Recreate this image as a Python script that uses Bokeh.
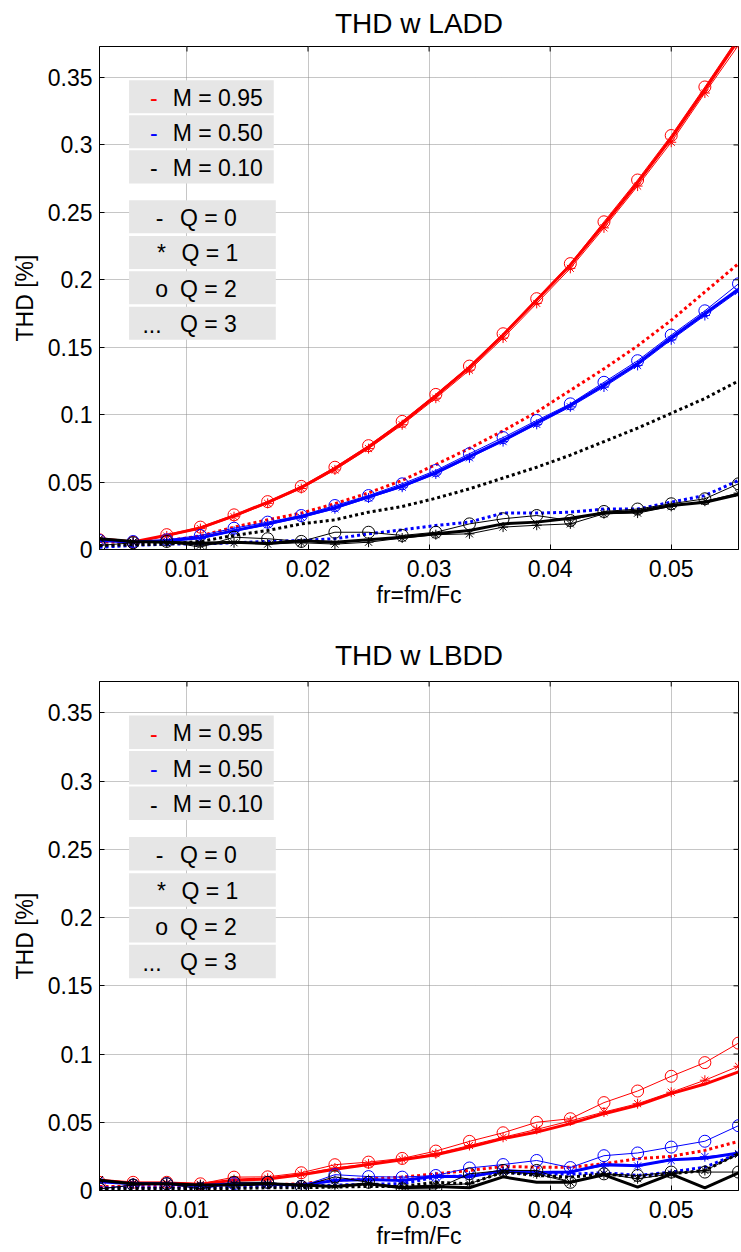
import math
from bokeh.plotting import figure
from bokeh.layouts import column
from bokeh.models import (Range1d, BoxAnnotation, Label, FixedTicker, NumeralTickFormatter, Title)
from bokeh.embed import file_html
from bokeh.resources import INLINE

# ---------------- data ----------------
fr = [0.002778, 0.005556, 0.008333, 0.011111, 0.013889, 0.016667, 0.019444, 0.022222,
      0.025000, 0.027778, 0.030556, 0.033333, 0.036111, 0.038889, 0.041667, 0.044444,
      0.047222, 0.050000, 0.052778, 0.055556]

x_ticks = [0.01, 0.02, 0.03, 0.04, 0.05]
y_ticks = [0, 0.05, 0.1, 0.15, 0.2, 0.25, 0.3, 0.35]
x_min, x_max = 0.002778, 0.055556
y_min, y_max = 0.0, 0.373

titles = ["THD w LADD", "THD w LBDD"]
x_label = "fr=fm/Fc"
y_label = "THD [%]"

m_labels = ["M = 0.95", "M = 0.50", "M = 0.10"]
m_colors = ["#ff0000", "#0000ff", "#000000"]
q_labels = ["Q = 0", "Q = 1", "Q = 2", "Q = 3"]
q_symbols = ["-", "*", "o", "..."]

# THD w LADD
ladd_r_q0 = [0.0080, 0.0056, 0.0105, 0.0160, 0.0250, 0.0350, 0.0460, 0.0600, 0.0760, 0.0940,
             0.1140, 0.1350, 0.1590, 0.1850, 0.2110, 0.2410, 0.2720, 0.3050, 0.3410, 0.3780]
ladd_r_q1 = [0.0078, 0.0054, 0.0100, 0.0155, 0.0243, 0.0342, 0.0452, 0.0590, 0.0748, 0.0925,
             0.1122, 0.1330, 0.1568, 0.1825, 0.2085, 0.2385, 0.2695, 0.3020, 0.3385, 0.3740]
ladd_r_q2 = [0.0072, 0.0054, 0.0110, 0.0166, 0.0257, 0.0355, 0.0468, 0.0610, 0.0770, 0.0950,
             0.1150, 0.1360, 0.1600, 0.1860, 0.2120, 0.2430, 0.2740, 0.3070, 0.3430, 0.3800]
ladd_r_q3 = [0.0060, 0.0050, 0.0065, 0.0100, 0.0166, 0.0220, 0.0270, 0.0340, 0.0420, 0.0512,
             0.0630, 0.0750, 0.0880, 0.1020, 0.1180, 0.1340, 0.1510, 0.1700, 0.1910, 0.2120]

ladd_b_q0 = [0.0067, 0.0055, 0.0065, 0.0087, 0.0140, 0.0190, 0.0245, 0.0310, 0.0390, 0.0470,
             0.0570, 0.0690, 0.0810, 0.0940, 0.1070, 0.1220, 0.1380, 0.1570, 0.1750, 0.1930]
ladd_b_q1 = [0.0065, 0.0052, 0.0062, 0.0082, 0.0135, 0.0184, 0.0238, 0.0302, 0.0382, 0.0462,
             0.0560, 0.0680, 0.0800, 0.0928, 0.1058, 0.1205, 0.1365, 0.1555, 0.1735, 0.1915]
ladd_b_q2 = [0.0067, 0.0059, 0.0072, 0.0104, 0.0158, 0.0203, 0.0252, 0.0326, 0.0400, 0.0487,
             0.0586, 0.0710, 0.0830, 0.0957, 0.1080, 0.1240, 0.1400, 0.1590, 0.1770, 0.1970]
ladd_b_q3 = [0.0017, 0.0030, 0.0040, 0.0040, 0.0050, 0.0060, 0.0067, 0.0080, 0.0116, 0.0146,
             0.0178, 0.0203, 0.0270, 0.0270, 0.0277, 0.0300, 0.0300, 0.0351, 0.0400, 0.0512]

ladd_k_q0 = [0.0079, 0.0059, 0.0054, 0.0047, 0.0054, 0.0044, 0.0064, 0.0054, 0.0072, 0.0091,
             0.0116, 0.0141, 0.0190, 0.0203, 0.0232, 0.0270, 0.0284, 0.0326, 0.0351, 0.0408]
ladd_k_q1 = [0.0079, 0.0055, 0.0050, 0.0032, 0.0050, 0.0040, 0.0050, 0.0040, 0.0054, 0.0085,
             0.0110, 0.0116, 0.0166, 0.0180, 0.0190, 0.0265, 0.0270, 0.0320, 0.0358, 0.0418]
ladd_k_q2 = [0.0030, 0.0050, 0.0060, 0.0017, 0.0091, 0.0080, 0.0060, 0.0128, 0.0128, 0.0104,
             0.0128, 0.0190, 0.0228, 0.0252, 0.0215, 0.0282, 0.0300, 0.0339, 0.0376, 0.0487]
ladd_k_q3 = [0.0030, 0.0035, 0.0040, 0.0060, 0.0104, 0.0141, 0.0190, 0.0220, 0.0277, 0.0319,
             0.0380, 0.0450, 0.0530, 0.0610, 0.0700, 0.0800, 0.0900, 0.1010, 0.1120, 0.1250]

# THD w LBDD
lbdd_r_q0 = [0.0075, 0.0055, 0.0055, 0.0045, 0.0075, 0.0085, 0.0115, 0.0155, 0.0190, 0.0225,
             0.0262, 0.0318, 0.0380, 0.0428, 0.0490, 0.0563, 0.0624, 0.0710, 0.0780, 0.0869]
lbdd_r_q1 = [0.0080, 0.0055, 0.0055, 0.0045, 0.0080, 0.0090, 0.0120, 0.0165, 0.0195, 0.0228,
             0.0270, 0.0330, 0.0390, 0.0448, 0.0510, 0.0575, 0.0636, 0.0720, 0.0808, 0.0910]
lbdd_r_q2 = [0.0060, 0.0060, 0.0060, 0.0049, 0.0098, 0.0100, 0.0130, 0.0189, 0.0208, 0.0235,
             0.0289, 0.0360, 0.0423, 0.0500, 0.0526, 0.0644, 0.0729, 0.0837, 0.0937, 0.1080]
lbdd_r_q3 = [0.0030, 0.0030, 0.0030, 0.0030, 0.0040, 0.0040, 0.0050, 0.0075, 0.0085, 0.0098,
             0.0122, 0.0147, 0.0176, 0.0171, 0.0170, 0.0196, 0.0233, 0.0250, 0.0294, 0.0360]

lbdd_b_q0 = [0.0065, 0.0050, 0.0050, 0.0035, 0.0050, 0.0045, 0.0040, 0.0073, 0.0080, 0.0073,
             0.0105, 0.0100, 0.0147, 0.0132, 0.0135, 0.0190, 0.0182, 0.0225, 0.0237, 0.0275]
lbdd_b_q1 = [0.0070, 0.0050, 0.0050, 0.0035, 0.0050, 0.0045, 0.0040, 0.0075, 0.0080, 0.0075,
             0.0100, 0.0105, 0.0140, 0.0135, 0.0140, 0.0180, 0.0180, 0.0220, 0.0248, 0.0270]
lbdd_b_q2 = [0.0012, 0.0040, 0.0050, 0.0012, 0.0050, 0.0060, 0.0030, 0.0116, 0.0102, 0.0098,
             0.0110, 0.0165, 0.0190, 0.0220, 0.0168, 0.0255, 0.0275, 0.0318, 0.0361, 0.0475]
lbdd_b_q3 = [0.0020, 0.0020, 0.0020, 0.0020, 0.0025, 0.0030, 0.0035, 0.0040, 0.0045, 0.0050,
             0.0098, 0.0110, 0.0135, 0.0120, 0.0120, 0.0130, 0.0110, 0.0135, 0.0171, 0.0270]

lbdd_k_q0 = [0.0075, 0.0050, 0.0050, 0.0040, 0.0040, 0.0050, 0.0040, 0.0030, 0.0050, 0.0020,
             0.0030, 0.0020, 0.0100, 0.0060, 0.0060, 0.0115, 0.0025, 0.0120, 0.0020, 0.0130]
lbdd_k_q1 = [0.0080, 0.0050, 0.0050, 0.0040, 0.0045, 0.0050, 0.0040, 0.0035, 0.0050, 0.0030,
             0.0040, 0.0049, 0.0135, 0.0122, 0.0060, 0.0122, 0.0086, 0.0122, 0.0147, 0.0265]
lbdd_k_q2 = [0.0012, 0.0040, 0.0050, 0.0012, 0.0060, 0.0060, 0.0030, 0.0100, 0.0060, 0.0012,
             0.0012, 0.0122, 0.0147, 0.0147, 0.0060, 0.0122, 0.0110, 0.0135, 0.0135, 0.0135]
lbdd_k_q3 = [0.0015, 0.0015, 0.0015, 0.0015, 0.0015, 0.0020, 0.0020, 0.0025, 0.0030, 0.0030,
             0.0060, 0.0050, 0.0135, 0.0110, 0.0098, 0.0122, 0.0098, 0.0122, 0.0147, 0.0270]

ladd = [[ladd_r_q0, ladd_r_q1, ladd_r_q2, ladd_r_q3],
        [ladd_b_q0, ladd_b_q1, ladd_b_q2, ladd_b_q3],
        [ladd_k_q0, ladd_k_q1, ladd_k_q2, ladd_k_q3]]
lbdd = [[lbdd_r_q0, lbdd_r_q1, lbdd_r_q2, lbdd_r_q3],
        [lbdd_b_q0, lbdd_b_q1, lbdd_b_q2, lbdd_b_q3],
        [lbdd_k_q0, lbdd_k_q1, lbdd_k_q2, lbdd_k_q3]]

# ---------------- style / layout ----------------
FONT = "Liberation Sans"
FS = "23px"
W = 741

# legend (text boxes placed in data units, as in the original)
box_tops = [0.348, 0.322, 0.296, 0.259, 0.2325, 0.2063, 0.180]
box_h = 0.0245
base_drop = 0.0129
box_x0 = 0.00522
m_box_x1 = 0.01717
q_box_x1 = 0.01734
m_sym_x = 0.00695
m_txt_x = 0.00882
q_sym_x = [0.00743, 0.00753, 0.00738, 0.00632]
q_txt_x = [0.00942, 0.00955, 0.00942, 0.00942]


def style_axis(ax, ticks):
    ax.ticker = FixedTicker(ticks=ticks)
    ax.formatter = NumeralTickFormatter(format="0.[00]")
    ax.major_label_text_font = FONT
    ax.major_label_text_font_size = FS
    ax.major_label_text_color = "black"
    ax.axis_label_text_font = FONT
    ax.axis_label_text_font_size = FS
    ax.axis_label_text_font_style = "normal"
    ax.axis_label_text_color = "black"
    ax.major_tick_in = 5
    ax.major_tick_out = 0
    ax.minor_tick_in = 0
    ax.minor_tick_out = 0
    ax.major_tick_line_color = "black"
    ax.axis_line_color = "black"


def build(title, title_standoff, data, height, b_top, b_bottom, b_left, b_right):
    p = figure(width=W, height=height, title=None,
               x_range=Range1d(x_min, x_max), y_range=Range1d(y_min, y_max),
               output_backend="svg", toolbar_location=None,
               min_border_left=b_left, min_border_right=b_right,
               min_border_top=b_top, min_border_bottom=b_bottom,
               background_fill_color="white", border_fill_color="white")

    p.add_layout(Title(text=title, align="center", vertical_align="top",
                       text_font=FONT, text_font_size="28px", text_font_style="normal",
                       text_color="black", standoff=title_standoff), "above")

    p.outline_line_color = "black"
    p.outline_line_width = 1

    style_axis(p.xaxis[0], x_ticks)
    style_axis(p.yaxis[0], y_ticks)
    p.xaxis[0].axis_label = x_label
    p.yaxis[0].axis_label = y_label
    p.xaxis[0].major_label_standoff = 10
    p.yaxis[0].major_label_standoff = 7
    p.xaxis[0].axis_label_standoff = 2
    p.yaxis[0].axis_label_standoff = 7

    for g in (p.xgrid[0], p.ygrid[0]):
        g.grid_line_color = "#8c8c8c"
        g.grid_line_dash = "1 1"
        g.grid_line_width = 1
    p.xgrid[0].ticker = FixedTicker(ticks=x_ticks)
    p.ygrid[0].ticker = FixedTicker(ticks=y_ticks)

    # inward box ticks on the top and right edges
    p.ray(x=x_ticks, y=[y_max] * len(x_ticks), length=5, length_units="screen",
          angle=-math.pi / 2, line_color="black", line_width=1)
    p.ray(x=[x_max] * len(y_ticks), y=y_ticks, length=5, length_units="screen",
          angle=math.pi, line_color="black", line_width=1)

    for ci, color in enumerate(m_colors):
        q0, q1, q2, q3 = data[ci]
        p.line(fr, q0, line_color=color, line_width=3)
        p.line(fr, q1, line_color=color, line_width=1)
        p.scatter(fr, q1, marker="asterisk", size=10, line_color=color, line_width=1)
        p.line(fr, q2, line_color=color, line_width=1)
        p.scatter(fr, q2, marker="circle", size=12, fill_color=None,
                  line_color=color, line_width=1)
        p.line(fr, q3, line_color=color, line_width=3, line_dash="3 3")

    # legend boxes
    for i in range(7):
        top = box_tops[i]
        x1 = m_box_x1 if i < 3 else q_box_x1
        p.add_layout(BoxAnnotation(left=box_x0, right=x1, top=top, bottom=top - box_h,
                                   fill_color="#e6e6e6", fill_alpha=1.0,
                                   line_color=None, level="annotation"))
    for i in range(3):
        yb = box_tops[i] - base_drop
        p.add_layout(Label(x=m_sym_x, y=yb, text="-", text_color=m_colors[i],
                           text_font=FONT, text_font_size=FS,
                           text_baseline="alphabetic", text_align="left"))
        p.add_layout(Label(x=m_txt_x, y=yb, text=m_labels[i], text_color="black",
                           text_font=FONT, text_font_size=FS,
                           text_baseline="alphabetic", text_align="left"))
    for j in range(4):
        yb = box_tops[3 + j] - base_drop
        p.add_layout(Label(x=q_sym_x[j], y=yb, text=q_symbols[j], text_color="black",
                           text_font=FONT, text_font_size=FS,
                           text_baseline="alphabetic", text_align="left"))
        p.add_layout(Label(x=q_txt_x[j], y=yb, text=q_labels[j], text_color="black",
                           text_font=FONT, text_font_size=FS,
                           text_baseline="alphabetic", text_align="left"))
    return p


p1 = build(titles[0], 12, ladd, 630, 46, 81, 99, 3)
p2 = build(titles[1], 17, lbdd, 622, 51, 62, 95, 1)

layout = column(p1, p2, spacing=0)
open("out.html", "w").write(file_html(layout, INLINE))
